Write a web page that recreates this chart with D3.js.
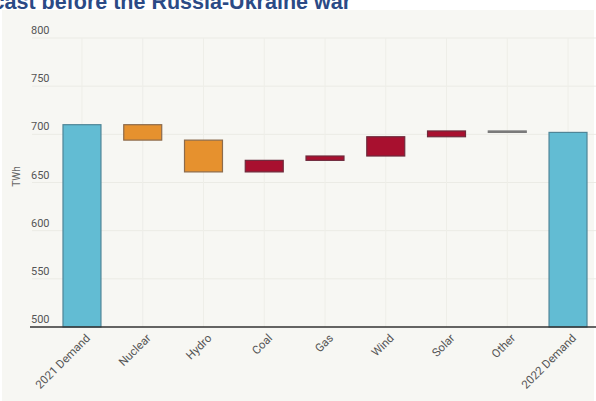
<!DOCTYPE html>
<html>
<head>
<meta charset="utf-8">
<script src="https://cdn.jsdelivr.net/npm/d3@7"></script>
<style>
  html, body { margin: 0; padding: 0; background: #ffffff; }
  svg { display: block; }
</style>
</head>
<body>
<svg id="chart" width="596" height="401"></svg>
<script>
// Electricity demand bridge, 2021 to 2022 (TWh)
const categories = ["2021 Demand", "Nuclear", "Hydro", "Coal", "Gas", "Wind", "Solar", "Other", "2022 Demand"];
const startDemand = 710;
const changes = [-16, -33, 12, 4.5, 20, 6, -1.5]; // Nuclear .. Other
const yTicks = [500, 550, 600, 650, 700, 750, 800];
const titleText = "Forecast before the Russia-Ukraine war";

const colors = {
  total: "#62bcd3", totalStroke: "#4f8597",
  down: "#e6912e", downStroke: "#8c6b4c",
  up: "#a8102f", upStroke: "#6e2a3c",
  flat: "#7a7a7a"
};

// Build the waterfall steps
const steps = [];
let running = startDemand;
steps.push({ cat: categories[0], y0: 500, y1: startDemand, kind: "total" });
changes.forEach((d, i) => {
  const from = running;
  running += d;
  const kind = categories[i + 1] === "Other" ? "flat" : (d < 0 ? "down" : "up");
  steps.push({ cat: categories[i + 1], y0: Math.min(from, running), y1: Math.max(from, running), kind });
});
steps.push({ cat: categories[8], y0: 500, y1: running, kind: "total" });

const svg = d3.select("#chart");

// Panel background
svg.append("rect").attr("x", 2).attr("y", 10).attr("width", 592).attr("height", 391).attr("fill", "#f7f7f3");

// Title, running off the top-left edge of the page
svg.append("text")
  .attr("x", 351).attr("y", 9)
  .attr("text-anchor", "end")
  .attr("font-family", "Liberation Sans, Arial, sans-serif")
  .attr("font-weight", "bold")
  .attr("font-size", 21.5)
  .attr("fill", "#2b4a86")
  .text(titleText);

const x = d3.scaleBand().domain(categories).range([51.6, 598.4]).paddingInner(0.375).paddingOuter(0.1875);
const y = d3.scaleLinear().domain([500, 800]).range([327, 38]);

// Horizontal gridlines
svg.append("g").selectAll("line").data(yTicks.slice(1)).join("line")
  .attr("x1", 32).attr("x2", 596)
  .attr("y1", d => y(d)).attr("y2", d => y(d))
  .attr("stroke", "#ebebe5").attr("stroke-width", 1);

// Vertical gridlines at category centres
svg.append("g").selectAll("line").data(categories).join("line")
  .attr("x1", d => x(d) + x.bandwidth() / 2).attr("x2", d => x(d) + x.bandwidth() / 2)
  .attr("y1", y(800)).attr("y2", y(500))
  .attr("stroke", "#eeeee8").attr("stroke-width", 1);

// Y tick labels sit just above their gridlines
svg.append("g").selectAll("text").data(yTicks).join("text")
  .attr("x", 31).attr("y", d => y(d) - 4)
  .attr("font-family", "Roboto, sans-serif")
  .attr("font-size", 11)
  .attr("fill", "#555")
  .text(d => d);

// Y axis title
svg.append("text")
  .attr("transform", `translate(20,${y(650) - 6}) rotate(-90)`)
  .attr("text-anchor", "middle")
  .attr("font-family", "Roboto, sans-serif")
  .attr("font-size", 10)
  .attr("fill", "#666")
  .text("TWh");

// Bars
svg.append("g").selectAll("rect").data(steps).join("rect")
  .attr("x", d => x(d.cat))
  .attr("width", x.bandwidth())
  .attr("y", d => y(d.y1))
  .attr("height", d => Math.max(1, y(d.y0) - y(d.y1)))
  .attr("fill", d => colors[d.kind])
  .attr("stroke", d => d.kind === "flat" ? colors.flat : colors[d.kind + "Stroke"])
  .attr("stroke-width", 1.2);

// Baseline
svg.append("line")
  .attr("x1", 30).attr("x2", 596)
  .attr("y1", y(500)).attr("y2", y(500))
  .attr("stroke", "#333").attr("stroke-width", 1.5);

// Rotated category labels
svg.append("g").selectAll("text").data(categories).join("text")
  .attr("transform", d => `translate(${x(d) + x.bandwidth() / 2 + 6},${y(500) + 9}) rotate(-45)`)
  .attr("text-anchor", "end")
  .attr("dy", "0.35em")
  .attr("font-family", "Roboto, sans-serif")
  .attr("font-size", 11.5)
  .attr("fill", "#555")
  .text(d => d);
</script>
</body>
</html>
